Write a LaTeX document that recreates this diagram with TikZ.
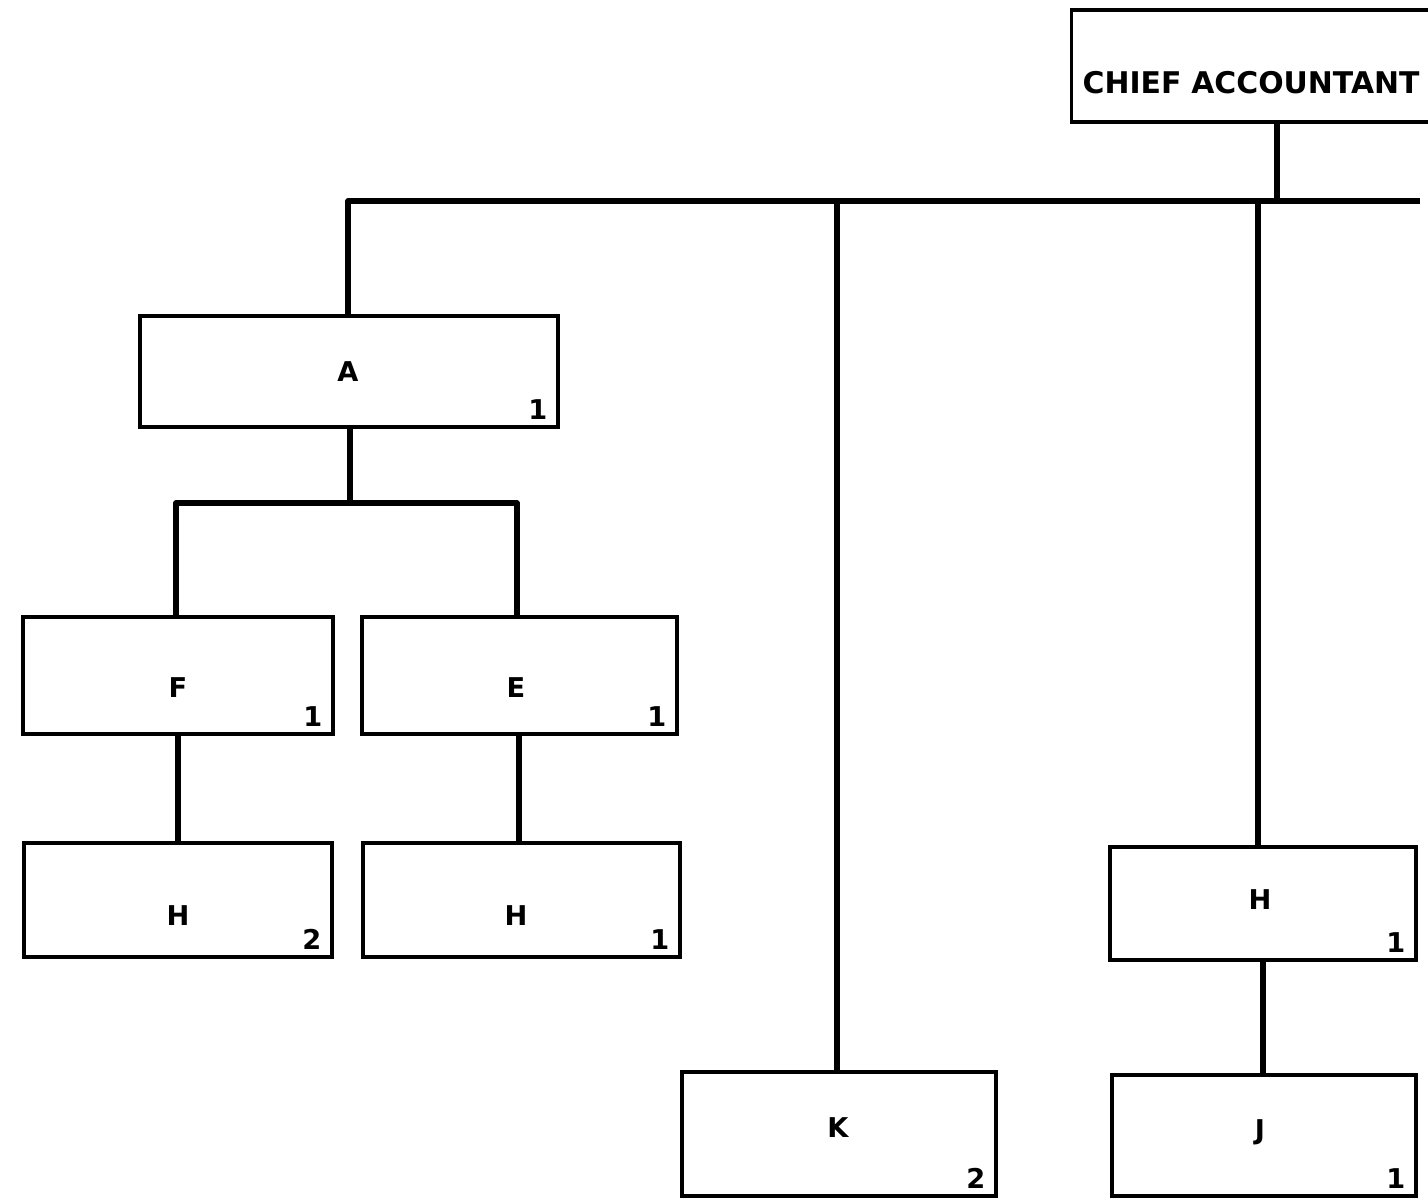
\documentclass[tikz,border=0pt]{standalone}
\usepackage{fontspec}
\setmainfont{DejaVu Sans}
\usetikzlibrary{fit, positioning}
\tikzset{
  box/.style={rectangle, draw=black, line width=1.8pt, inner sep=0pt},
  wire/.style={draw=black, line width=3pt, line join=round},
  tag/.style={font=\fontsize{15.5}{18}\selectfont\bfseries, inner sep=0pt},
  num/.style={tag, anchor=south east},
}

\begin{document}
\begin{tikzpicture}[x=0.02cm,y=-0.02cm]
  \useasboundingbox (0,0) rectangle (1428,1201);
  \clip (0,0) rectangle (1428,1201);

  % head of the chart, runs off the right edge
  \node[box, anchor=west, inner xsep=0.22cm, minimum height=2.24cm,
        text width=7.6cm, align=left, text height=1.1cm, text depth=0.02cm,
        font=\fontsize{17}{20}\selectfont\bfseries] (chief) at (1070,66) {CHIEF ACCOUNTANT};

  % boxes: name / left / top / right / bottom / letter x / letter y / letter / count
  \foreach \n/\l/\t/\r/\b/\tx/\ty/\txt/\c in {
      A/140/316/558/427/348/372/A/1,
      F/23/617/333/734/178/688/F/1,
      E/362/617/677/734/516/688/E/1,
      HF/24/843/332/957/178/916/H/2,
      HE/363/843/680/957/516/916/H/1,
      K/682/1072/996/1196/838/1128/K/2,
      HR/1110/847/1416/960/1260/900/H/1,
      J/1112/1075/1416/1196/1260/1132/J/1}{
    \node[box, fit={(\l,\t) (\r,\b)}] (\n) {};
    \node[tag] (\n-txt) at (\tx,\ty) {\txt};
    \node[num] (\n-num) at ([shift={(-0.24cm,0.18cm)}]\n.south east) {\c};
  }

  \coordinate (tap) at (1277,201);
  \coordinate (busend) at (1420,201);
  \coordinate (split) at (350,503);

  % main bus
  \draw[wire] (chief.south -| tap) -- (tap);
  \draw[wire] (A.north -| 348,0) |- (busend);
  \draw[wire] (K.north -| 837,0) -- (tap -| 837,0);
  \draw[wire] (HR.north -| 1258,0) -- (tap -| 1258,0);

  % under A
  \draw[wire] (A.south -| split) -- (split);
  \draw[wire] (F.north -| 176,0) |- (split) -| (E.north -| 517,0);
  \draw[wire] (F.south) -- (HF.north);
  \draw[wire] (E.south -| 519,0) -- (HE.north -| 519,0);

  % right column
  \draw[wire] (HR.south) -- (HR.south |- J.north);
\end{tikzpicture}
\end{document}
